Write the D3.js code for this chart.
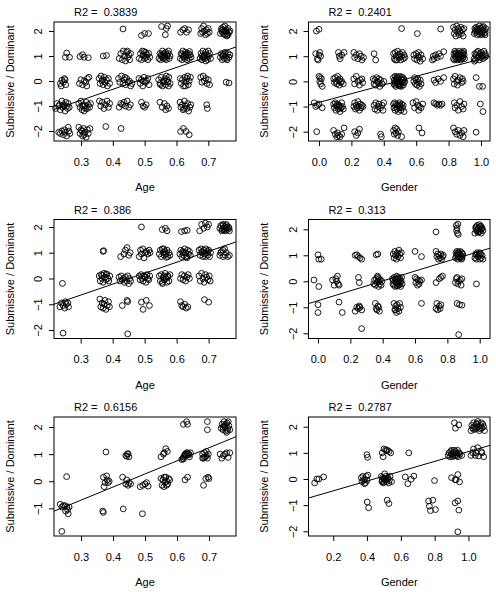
<!DOCTYPE html>
<html>
<head>
<meta charset="utf-8">
<script src="https://cdn.jsdelivr.net/npm/d3@7"></script>
<style>
  body { margin: 0; background: #fff; }
  svg text { font-family: "Liberation Sans", Arial, sans-serif; font-size: 11px; fill: #000; }
</style>
</head>
<body>
<svg id="chart"></svg>
<script>
const width = 496;
const height = 592;

// tick values
const ageTicks = [0.3, 0.4, 0.5, 0.6, 0.7];
const genderTicks = [0, 0.2, 0.4, 0.6, 0.8, 1.0];
const genderTicksLow = [0.2, 0.4, 0.6, 0.8, 1.0];
const sdTicks = [-2, -1, 0, 1, 2];
const sdTicksLow = [-1, 0, 1, 2];

// fit results per panel (row by row)
const r2Values = ["0.3839", "0.2401", "0.386", "0.313", "0.6156", "0.2787"];
const intercepts = [-2.08, -0.834, -1.92, -0.746, -2.146, -0.828];
const slopes = [4.37, 1.727, 4.25, 1.90, 4.83, 1.877];
const xLabels = ["Age", "Gender", "Age", "Gender", "Age", "Gender"];

// points [x, score]
const ageTop = [
  [.255,1.12],[.251,.95],[.264,.95],
  [.235,-.1],[.24,.03],[.245,-.05],[.25,.05],[.252,-.15],[.238,-.2],[.248,.1],
  [.22,-1.1],[.225,-.9],[.23,-1],[.235,-1.15],[.24,-.8],[.242,-1.05],[.245,-.95],[.25,-1.2],[.252,-.85],[.255,-1],[.258,-1.1],[.26,-.9],[.263,-1.05],[.247,-1],[.233,-.95],
  [.23,-2.05],[.235,-2.1],[.24,-2],[.245,-2.15],[.25,-2.05],[.255,-2.2],[.26,-1.85],[.262,-2],[.265,-2.1],[.248,-1.95],
  [.297,.98],[.305,1.05],[.31,.95],[.323,.93],
  [.295,-.1],[.3,.05],[.305,-.15],[.31,0],[.315,-.05],[.32,.1],[.325,.15],[.318,-.2],
  [.293,-.9],[.297,-1.05],[.3,-.8],[.303,-1.15],[.307,-.95],[.31,-1.2],[.313,-1],[.317,-.85],[.32,-1.1],[.323,-.95],[.327,-1.05],[.33,-.9],[.305,-1],[.315,-1.1],
  [.293,-1.85],[.297,-2.1],[.3,-1.95],[.305,-2.2],[.308,-1.9],[.312,-2.05],[.316,-2.25],[.32,-1.95],[.323,-2.1],[.328,-1.9],[.31,-2.15],[.302,-2],
  [.37,1],[.38,1.02],
  [.357,.1],[.36,-.1],[.363,.2],[.366,0],[.37,-.15],[.373,.15],[.376,-.05],[.38,.05],[.383,-.2],[.386,.1],[.39,-.1],[.368,.05],
  [.358,-.8],[.362,-1],[.367,-.85],[.372,-1.1],[.377,-.95],[.382,-.8],[.386,-1.05],[.39,-.9],
  [.378,-1.82],
  [.432,2.08],
  [.42,.9],[.425,1.1],[.43,.85],[.433,1.2],[.437,1],[.44,.8],[.443,1.15],[.447,.95],[.45,1.05],[.453,.85],[.456,1.1],[.446,1.2],
  [.418,.1],[.422,-.05],[.427,.2],[.432,-.1],[.436,.05],[.44,-.15],[.444,.1],[.448,-.05],[.452,0],[.456,-.2],[.46,-.1],[.438,.15],
  [.42,-1.05],[.425,-.9],[.43,-.95],[.435,-.85],[.44,-1],[.445,-.8],[.45,-1.05],[.455,-.95],
  [.426,-1.9],
  [.49,1.82],[.5,1.9],[.512,1.9],
  [.483,.9],[.487,1.1],[.49,.85],[.493,1.2],[.497,1],[.5,.9],[.503,1.15],[.507,1.05],[.51,.85],[.513,1.1],[.516,.95],[.495,1.05],[.505,.95],[.498,1.18],
  [.482,.1],[.486,-.1],[.49,.05],[.494,-.2],[.498,.15],[.502,-.05],[.506,0],[.51,.1],[.514,-.15],[.496,0],
  [.49,-.85],[.495,-1],[.5,-1.05],[.505,-.95],
  [.553,2.18],[.568,2.1],[.572,2.2],[.565,1.85],
  [.545,.9],[.548,1.1],[.55,.85],[.553,1],[.556,1.2],[.558,.9],[.561,1.05],[.563,.95],[.566,1.15],[.568,.85],[.571,1],[.574,1.1],[.577,.9],[.58,1],[.555,.95],[.56,1.1],[.565,.9],[.57,1.05],[.575,1.2],[.552,1.05],
  [.544,.05],[.548,-.1],[.552,.15],[.556,-.2],[.56,0],[.563,.1],[.566,-.15],[.57,.05],[.573,-.05],[.576,.15],[.58,-.1],[.558,-.05],[.568,.2],[.55,-.15],[.575,-.2],
  [.548,-.85],[.555,-1.05],[.562,-.9],[.566,-1.15],[.57,-1],[.575,-1.1],
  [.613,1.95],[.62,2.05],[.626,2.1],[.632,1.95],[.638,2.05],
  [.612,.9],[.615,1.1],[.618,.85],[.62,1.2],[.623,1],[.626,.9],[.628,1.15],[.63,1.05],[.633,.85],[.636,1],[.638,1.1],[.64,.9],[.643,1.05],[.646,.95],[.622,.95],[.632,1.1],[.617,1.05],[.641,1.18],
  [.612,.1],[.615,-.1],[.619,.05],[.622,-.2],[.626,.15],[.63,-.05],[.633,.1],[.637,-.15],[.64,0],[.644,.15],[.628,-.2],[.635,.2],
  [.611,-.85],[.614,-1.05],[.618,-.95],[.621,-1.15],[.625,-.8],[.628,-1],[.632,-1.1],[.635,-.9],[.638,-1.2],[.642,-1.05],[.645,-.95],[.624,-1.1],
  [.613,-2.02],[.622,-1.9],[.63,-2.02],[.64,-2.15],
  [.676,1.9],[.679,2.1],[.682,1.95],[.685,2.2],[.688,2],[.691,1.85],[.694,2.05],[.697,1.9],[.7,2.1],[.703,1.95],
  [.674,.9],[.677,1.1],[.68,.85],[.683,1.2],[.686,1],[.689,.9],[.692,1.15],[.695,1.05],[.698,.85],[.701,1],[.704,1.1],[.707,.9],[.68,1],[.688,1.05],[.696,.95],[.684,.95],[.7,1.2],[.692,.8],
  [.676,.15],[.68,-.05],[.684,.2],[.688,0],[.692,.1],[.696,-.1],[.7,.05],[.704,-.15],
  [.695,-.95],[.697,-1.1],
  [.738,1.9],[.741,2.1],[.744,1.95],[.747,2.15],[.75,2],[.753,1.85],[.756,2.05],[.759,1.9],[.762,2.1],[.765,1.95],[.768,2],[.745,2.05],[.752,2.2],[.758,1.8],[.748,1.88],[.762,1.85],[.742,2.02],[.755,1.98],
  [.738,.95],[.741,1.1],[.744,.85],[.747,1.05],[.75,.9],[.753,1.15],[.756,1],[.759,.85],[.762,1.1],[.765,.95],[.768,1.05],[.745,1],[.757,.9],[.751,1.08],
  [.756,-.05],[.765,-.08]
];

const genderTop = [
  [-.016,2],[0,2.07],
  [-.02,1.1],[-.01,.9],[0,1.05],[.005,1.15],[-.005,.85],[.01,1],
  [0,.2],[.005,0],[.01,-.1],[.015,.1],[.02,-.2],[.008,.15],
  [-.03,-.85],[-.02,-1],[-.01,-.95],[0,-.9],[.02,-1.05],
  [-.014,-2],
  [.12,1.15],[.13,.9],[.14,1.05],[.155,1.15],[.125,1],
  [.09,.1],[.095,-.05],[.1,.15],[.105,0],[.11,-.1],[.115,.2],[.12,.05],[.125,-.15],[.13,.1],[.135,-.05],[.14,0],[.15,-.1],
  [.09,-.9],[.095,-1.05],[.1,-.85],[.105,-1.15],[.11,-1],[.115,-.9],[.12,-1.1],[.125,-.95],[.13,-1.2],[.135,-1.05],[.14,-.85],[.145,-1],[.15,-1.1],[.108,-.95],[.128,-1],
  [.09,-1.95],[.1,-2.1],[.11,-2.2],[.115,-2.05],[.12,-2.15],[.13,-2.2],[.14,-2.1],[.155,-1.85],
  [.215,1.15],[.22,.95],[.23,1.05],[.24,.9],[.25,1.1],[.26,1],[.265,.85],[.275,.95],
  [.215,.1],[.22,-.1],[.23,.2],[.24,0],[.25,-.15],[.255,.05],[.265,.1],[.27,-.05],
  [.215,-1],[.22,-.85],[.225,-1.1],[.23,-.95],[.235,-1.05],[.24,-.8],[.245,-1],[.25,-1.15],[.255,-.9],[.26,-1.05],[.265,-.95],[.272,-1],
  [.22,-2],[.23,-2.15],[.24,-2.05],[.25,-1.9],
  [.34,1.1],[.35,.85],
  [.335,.1],[.34,-.1],[.345,.05],[.35,-.15],[.355,.15],[.36,0],[.365,-.05],[.37,.1],[.375,-.2],[.38,.05],[.39,-.1],[.4,0],
  [.34,-.95],[.345,-1.1],[.35,-.85],[.36,-1.15],[.365,-1],[.37,-.9],[.38,-1.05],[.39,-.95],[.395,-1.15],[.4,-.85],
  [.38,-2.1],[.385,-2.2],
  [.51,2.1],
  [.46,1.1],[.465,.9],[.47,1.15],[.475,1],[.48,.85],[.485,1.2],[.49,1.05],[.495,.95],[.5,1.1],[.505,.85],[.51,1],[.515,1.15],[.52,.9],[.525,1.05],[.53,.95],[.472,.85],
  [.46,.15],[.462,-.1],[.465,.05],[.468,-.15],[.47,.2],[.473,0],[.476,-.2],[.479,.1],[.482,-.05],[.485,.15],[.488,-.1],[.49,.05],[.493,-.15],[.496,.2],[.499,0],[.502,-.1],[.505,.1],[.508,-.2],[.511,.05],[.514,-.05],[.517,.15],[.52,-.15],[.523,.1],[.526,-.05],[.529,0],[.48,.18],[.5,-.18],[.51,.18],[.47,-.05],[.52,.05],
  [.46,-.9],[.463,-1.05],[.467,-.85],[.47,-1.15],[.474,-1],[.478,-.9],[.482,-1.1],[.486,-.95],[.49,-1.2],[.494,-1.05],[.498,-.85],[.502,-1],[.506,-1.15],[.51,-.9],[.515,-1.05],[.52,-.95],[.525,-1.2],[.5,-.95],
  [.46,-1.95],[.465,-2.1],[.47,-1.85],[.475,-2.05],[.48,-1.9],[.485,-2.15],[.49,-2],[.51,-2.2],
  [.607,1.9],
  [.585,1.05],[.59,.9],[.6,1.1],[.605,.85],[.61,1],[.615,1.15],[.62,.95],[.625,.8],[.63,1.05],[.64,.9],
  [.585,0],[.59,.15],[.595,-.1],[.6,.05],[.605,-.15],[.61,.1],[.615,-.05],[.62,-.2],[.625,.05],[.63,-.1],
  [.58,-.85],[.59,-1.05],[.6,-.8],[.61,-.95],[.615,-1.15],[.62,-1],[.63,-1.05],[.64,-.9],
  [.617,-1.85],[.636,-2.05],
  [.751,2.08],
  [.7,.85],[.705,1],[.71,.9],[.72,1.05],[.73,.95],[.74,1.1],[.75,1],[.77,1.18],
  [.71,.05],[.72,-.05],[.735,.1],[.75,0],[.77,.15],
  [.71,-.85],[.72,-.9],[.73,-.95],[.74,-.9],[.75,-.95],[.76,-.9],
  [.83,2.15],[.835,1.9],[.84,2.05],[.845,1.8],[.85,2.2],[.855,1.95],[.86,2.1],[.865,1.85],[.87,2],[.875,2.15],[.88,1.9],[.885,2.05],[.89,1.8],[.895,2.1],
  [.83,.9],[.833,1.1],[.836,.85],[.839,1.2],[.842,1],[.845,.9],[.848,1.15],[.851,1.05],[.854,.85],[.857,1],[.86,1.1],[.863,.9],[.866,1.2],[.869,.95],[.872,1.05],[.875,.85],[.878,1.15],[.881,1],[.884,.9],[.887,1.1],[.89,.95],[.893,1.2],[.896,1.05],[.899,.9],[.845,1.1],[.86,.95],[.875,1.05],[.89,1.15],
  [.83,.1],[.835,-.1],[.84,.2],[.85,0],[.855,-.15],[.86,.05],[.87,.15],[.88,-.05],[.885,.1],[.89,0],
  [.835,-.85],[.84,-1.05],[.85,-.95],[.86,-1.15],[.87,-.8],[.88,-1],[.89,-1.1],[.895,-.9],
  [.83,-1.85],[.84,-2],[.85,-2.1],[.86,-1.95],[.87,-2.15],[.88,-2.05],[.89,-2.2],[.895,-1.95],
  [.958,1.9],[.962,2.1],[.966,1.95],[.97,2.15],[.974,2],[.978,1.85],[.982,2.05],[.986,1.9],[.99,2.2],[.994,2],[.998,1.85],[1.002,2.1],[1.006,1.95],[1.01,2.15],[1.014,2],[1.018,1.9],[1.022,2.05],[1.026,1.95],[1.03,2.1],[.975,2.08],[.985,1.98],[.995,2.12],[1.005,1.88],[1.015,2.18],[1.025,1.85],[.965,2.02],
  [.958,.9],[.962,1.1],[.966,.85],[.97,1.05],[.974,1.15],[.978,.95],[.982,1.2],[.986,1],[.99,.85],[.994,1.1],[.998,.95],[1.002,1.15],[1.006,1],[1.01,.9],[1.014,1.05],[1.018,1.2],[1.022,.95],[1.026,1.1],[1.03,1],[.96,.8],
  [.97,.15],[.99,-.2],[1.01,-.2],
  [.996,-.9],[1.012,-1.2],
  [.97,-2.02]
];

const ageMid = [
  [.243,-.19],
  [.235,-1.1],[.24,-.95],[.245,-1.05],[.25,-1.15],[.255,-1],[.26,-.95],[.262,-1.1],[.252,-.9],
  [.245,-2.12],
  [.37,1.05],[.372,1.08],
  [.358,.1],[.361,-.1],[.364,.15],[.367,0],[.37,-.15],[.373,.2],[.376,.05],[.379,-.05],[.382,.15],[.385,0],[.388,-.1],[.391,.1],[.368,.12],[.38,.18],
  [.36,-.8],[.363,-1.1],[.367,-.95],[.37,-1.15],[.373,-1],[.376,-.85],[.379,-1.2],[.383,-1.05],[.387,-.9],[.39,-1.1],
  [.425,.85],[.435,.95],[.44,1.1],[.445,1.2],[.45,.9],[.455,1],
  [.42,.05],[.423,-.1],[.427,.1],[.43,-.05],[.434,0],[.437,-.15],[.44,.05],[.444,-.1],[.447,.1],[.45,-.2],[.453,0],[.456,-.1],
  [.43,-1.05],[.445,-.85],[.447,-.9],
  [.447,-2.15],
  [.49,2],
  [.483,.85],[.487,1.1],[.49,.95],[.494,1.15],[.498,.8],[.502,1],[.506,1.05],[.51,.95],[.514,1.1],[.517,1],
  [.483,.1],[.486,-.05],[.489,.15],[.492,0],[.495,-.1],[.498,.1],[.501,.05],[.504,-.15],[.507,.15],[.51,0],[.513,-.05],[.516,.1],
  [.49,-.92],[.495,-1.2],[.505,-.85],[.515,-1.05],
  [.555,1.9],[.565,1.95],[.57,1.85],
  [.546,.95],[.549,1.1],[.552,.85],[.555,1.15],[.558,1],[.561,.9],[.564,1.05],[.567,.95],[.57,1.1],[.573,.85],[.576,1],[.579,.9],[.56,1.15],[.568,.82],
  [.546,.1],[.549,-.1],[.552,.15],[.555,-.15],[.558,.05],[.561,-.05],[.564,.2],[.567,0],[.57,-.15],[.573,.1],[.576,-.1],[.579,.15],[.562,.1],[.572,.05],[.556,-.2],
  [.615,1.82],[.625,1.85],[.633,1.87],
  [.61,.95],[.613,1.1],[.616,.85],[.619,1.05],[.622,.9],[.625,1.15],[.628,1],[.631,.85],[.634,1.1],[.637,.95],[.64,1.05],[.643,.9],[.62,1],[.632,.8],
  [.612,0],[.616,.15],[.62,-.05],[.624,.1],[.628,-.1],[.632,.05],[.636,.15],[.64,0],
  [.612,-.9],[.616,-1.05],[.62,-1.1],[.625,-1],[.63,-1.15],[.635,-1.1],
  [.672,1.85],[.678,2.1],[.685,1.95],[.69,2.15],[.696,2],[.7,2.1],
  [.67,1.1],[.673,.9],[.676,1.15],[.679,1],[.682,.85],[.685,1.1],[.688,.95],[.691,1.15],[.694,1],[.697,.9],[.7,1.1],[.703,.85],[.706,1],[.68,1.05],[.69,.85],[.698,1.05],
  [.67,.1],[.674,-.1],[.678,.2],[.682,0],[.686,-.15],[.69,.15],[.694,.05],[.698,-.05],[.702,.1],[.705,-.1],
  [.687,-.82],[.7,-.92],
  [.735,1.95],[.738,2.05],[.741,1.85],[.744,2.1],[.747,1.95],[.75,2],[.753,1.85],[.756,2.05],[.759,1.9],[.762,2],[.765,1.85],[.746,2.08],[.752,1.92],[.758,1.98],[.742,1.9],[.764,1.95],[.755,2.1],[.748,1.88],
  [.735,.9],[.74,1.05],[.745,.85],[.75,1.15],[.755,1],[.76,.85],[.765,.9],[.745,1.1],[.738,1],[.752,.9]
];

const genderMid = [
  [0,1.02],[.005,.85],[.02,.85],
  [-.025,.05],[.005,-.2],
  [0,-.9],[0,-1.2],
  [.09,.05],[.1,-.15],[.11,.1],[.12,.2],[.125,-.1],[.13,-.15],[.115,0],
  [.13,-.8],[.15,-1.2],
  [.23,1],[.24,1.02],[.25,.95],[.26,.9],[.27,.85],
  [.25,.15],[.255,-.05],
  [.23,-1.15],[.24,-1],[.25,-1.05],[.26,-1],[.27,-1.1],[.255,-.95],
  [.27,-1.82],
  [.36,1.02],[.37,1.05],
  [.345,-.1],[.35,.05],[.355,-.15],[.36,.1],[.365,-.05],[.37,.15],[.372,0],[.375,-.2],[.378,.1],[.38,-.1],[.385,.05],[.39,-.15],[.395,0],[.368,.2],
  [.355,-.85],[.36,-1.05],[.365,-1.1],[.37,-.95],[.38,-1.15],[.375,-1],
  [.465,1.05],[.47,.9],[.475,1.15],[.48,1],[.485,.85],[.49,1.1],[.495,.95],[.5,1.2],[.505,1.05],[.51,.9],[.515,1.1],
  [.46,.1],[.463,-.1],[.466,.05],[.469,-.15],[.472,.15],[.475,0],[.478,-.2],[.481,.1],[.484,-.05],[.487,.2],[.49,0],[.493,-.1],[.496,.15],[.499,-.15],[.502,.05],[.505,-.05],[.508,.1],[.511,-.2],[.514,0],[.517,.15],[.52,-.1],[.485,.05],[.495,.1],[.505,-.12],[.49,-.18],
  [.47,-.85],[.475,-1.1],[.48,-.95],[.485,-1.2],[.49,-.9],[.495,-1.05],[.5,-1.15],[.505,-.85],[.51,-1],[.48,-1.1],
  [.6,1.15],[.64,.95],
  [.6,.15],[.605,-.05],[.61,.1],[.615,-.15],[.62,.05],[.625,-.1],[.63,0],[.64,.05],
  [.64,-.85],
  [.73,1.9],
  [.73,1.15],[.735,.95],[.74,1.05],[.745,.85],[.75,1],[.755,.9],[.76,1.05],[.765,.85],[.77,.95],[.775,1],
  [.73,-.05],[.75,.1],[.76,.15],[.77,.2],
  [.73,-1.05],[.735,-.85],[.74,-1.1],[.75,-.95],[.755,-1.05],[.76,-.9],
  [.855,2.15],[.857,1.95],[.86,2.05],[.862,1.85],[.865,2.2],[.868,1.8],
  [.85,.9],[.853,1.1],[.856,.95],[.859,1.15],[.862,1],[.865,.85],[.868,1.1],[.871,.95],[.874,1.05],[.877,.9],[.88,1.15],[.883,1],[.886,.85],[.889,1.1],[.892,.95],[.895,1.05],[.86,1.05],[.87,1.12],[.88,.92],[.89,.88],
  [.85,-.05],[.855,.1],[.86,.15],[.865,-.1],[.87,0],[.88,.05],[.885,-.15],[.89,.1],
  [.86,-.85],[.875,-.9],[.89,-.92],
  [.87,-2.05],
  [.97,1.85],[.975,2.05],[.98,1.95],[.985,2.15],[.99,2],[.995,1.9],[1,2.1],[1.005,2],[1.01,1.85],[1.015,2.05],[1.02,1.95],[.978,2.1],[.988,1.88],[.998,2.18],[1.008,2.12],[.992,2.05],[1.003,1.92],[.983,1.98],[1.012,2.02],
  [.97,.9],[.975,1.05],[.98,.85],[.985,1.1],[.99,.95],[.995,1],[1,.85],[1.005,1.05],[1.01,.9],[1.015,1],[1.02,.85],[.98,1],[1,1.1],
  [.98,-.1]
];

const ageBottom = [
  [.255,.17],
  [.235,-.85],[.24,-.95],[.245,-.9],[.25,-.9],[.252,-1.1],[.256,-.95],[.258,-1.05],[.26,-1.2],[.263,-.95],
  [.24,-1.85],
  [.378,1.08],
  [.37,.15],[.372,-.2],[.375,-.05],[.38,.2],[.382,.05],[.385,-.05],[.388,0],
  [.368,-1.1],[.37,-1.15],
  [.44,.95],[.445,1],[.45,.9],[.443,.92],[.447,1.02],
  [.43,.15],[.44,-.1],[.443,.05],[.447,-.15],[.45,-.05],[.455,-.1],
  [.432,-1.02],
  [.485,-.2],[.493,-.15],[.5,-.1],[.505,-.05],[.51,-.18],
  [.492,-1.2],
  [.55,.9],[.558,1],[.565,1.2],[.57,1.1],[.56,1.05],
  [.55,.1],[.553,-.15],[.556,.05],[.559,-.2],[.562,-.05],[.565,.15],[.568,0],[.571,-.1],[.574,.1],[.577,.05],[.56,.15],[.567,-.15],
  [.62,2.1],[.63,2.2],[.633,2.1],
  [.615,.8],[.618,.85],[.621,.9],[.624,.95],[.627,1],[.63,.95],[.633,1.05],[.636,1],[.639,.9],[.642,1.05],[.625,1],[.63,1.05],[.638,.98],[.62,.82],
  [.625,.05],[.633,.15],
  [.695,2.2],[.695,1.9],
  [.68,1],[.683,.85],[.686,1.05],[.689,.9],[.692,1.1],[.695,.85],[.698,1],[.686,.88],[.692,.95],[.68,.85],
  [.683,-.15],[.69,.1],[.697,.15],[.7,.1],
  [.738,1.95],[.741,2.1],[.744,1.9],[.747,2.2],[.75,2],[.753,1.85],[.756,2.15],[.759,1.95],[.762,2.05],[.765,1.9],[.748,2.05],[.755,1.8],[.76,2.2],[.743,2],[.752,2.1],[.758,1.88],
  [.735,1],[.74,.85],[.745,.95],[.755,1.05],[.76,.88],[.765,1.05],[.75,1]
];

const genderBottom = [
  [.09,-.15],[.103,0],[.115,0],[.143,.08],
  [.399,.93],[.403,.83],
  [.366,.05],[.37,-.1],[.375,.1],[.38,-.05],[.385,0],[.39,-.15],[.395,.1],[.4,-.05],[.405,.15],[.385,-.18],
  [.401,-.88],[.409,-1.1],
  [.49,1],[.5,1.15],[.51,1.12],[.52,1.1],[.53,1.05],[.54,1],[.495,.85],[.515,1.08],
  [.484,.1],[.488,-.1],[.492,.05],[.496,-.15],[.5,0],[.504,.2],[.508,-.05],[.512,.1],[.516,-.1],[.52,0],[.524,.05],[.528,-.15],[.532,-.05],[.536,.1],[.5,-.12],[.51,.02],[.545,-.1],[.49,-.05],
  [.519,-.81],[.529,-.94],
  [.647,1],
  [.626,.08],[.641,-.18],[.661,-.01],[.677,.11],
  [.799,-.06],
  [.764,-.84],[.769,-1.04],[.775,-1.21],[.789,-.81],[.805,-1.17],
  [.917,2.15],[.923,1.94],[.943,2.07],
  [.88,.9],[.885,1],[.89,.85],[.895,1.05],[.9,.95],[.905,.85],[.91,1],[.915,1.1],[.92,.9],[.925,1.05],[.93,.95],[.935,1.1],[.94,.85],[.945,1],[.9,1.1],[.91,.9],[.92,1],[.93,.88],[.95,.95],[.96,.9],
  [.9,.05],[.921,-.03],[.927,-.03],[.937,.17],[.947,-.11],
  [.921,-.91],[.937,-.84],[.943,-1.19],
  [.937,-2.02],
  [1.015,1.85],[1.02,2.05],[1.025,1.95],[1.03,2.15],[1.035,2],[1.04,1.9],[1.045,2.1],[1.05,1.95],[1.055,2.2],[1.06,2],[1.065,1.85],[1.07,2.05],[1.075,2.15],[1.08,1.95],[1.085,2.1],[1.09,2],[1.095,1.85],[1.03,1.9],[1.05,2.12],[1.07,1.92],
  [1.015,.9],[1.03,1.15],[1.045,1],[1.06,.88],[1.075,1.05],[1.09,.85],[1.04,.9],[1.08,1],[1.055,1.2],[1.025,1]
];

const pointSets = [ageTop, genderTop, ageMid, genderMid, ageBottom, genderBottom];
const xTickSets = [ageTicks, genderTicks, ageTicks, genderTicks, ageTicks, genderTicksLow];
const yTickSets = [sdTicks, sdTicks, sdTicks, sdTicks, sdTicksLow, sdTicks];

// plot boxes (pixels) and visible ranges
const boxes = [
  {x0: 54, x1: 236, y0: 22, y1: 141, xd: [0.2152, 0.787], yd: [-2.4, 2.36]},
  {x0: 308.5, x1: 490, y0: 22, y1: 141, xd: [-0.0648, 1.0556], yd: [-2.37, 2.36]},
  {x0: 54, x1: 236, y0: 219.5, y1: 338.5, xd: [0.2166, 0.7856], yd: [-2.33, 2.29]},
  {x0: 308.5, x1: 490, y0: 219.5, y1: 338.5, xd: [-0.0588, 1.0637], yd: [-2.2, 2.377]},
  {x0: 54, x1: 236, y0: 417, y1: 536, xd: [0.2156, 0.7844], yd: [-2.02, 2.37]},
  {x0: 308.5, x1: 490, y0: 417, y1: 536, xd: [0.0535, 1.1274], yd: [-2.18, 2.371]}
];

const svg = d3.select("#chart").attr("width", width).attr("height", height);
svg.append("rect").attr("width", width).attr("height", height).attr("fill", "#fff");

boxes.forEach(function (b, i) {
  const x = d3.scaleLinear().domain(b.xd).range([b.x0, b.x1]);
  const y = d3.scaleLinear().domain(b.yd).range([b.y1, b.y0]);
  const g = svg.append("g");

  g.append("clipPath").attr("id", "clip" + i)
    .append("rect")
    .attr("x", b.x0).attr("y", b.y0)
    .attr("width", b.x1 - b.x0).attr("height", b.y1 - b.y0);

  // points
  g.append("g")
    .selectAll("circle")
    .data(pointSets[i])
    .enter()
    .append("circle")
    .attr("cx", (d) => x(d[0]))
    .attr("cy", (d) => y(d[1]))
    .attr("r", 2.9)
    .attr("fill", "none")
    .attr("stroke", "#000")
    .attr("stroke-width", 0.9);

  // fitted line
  const line = d3.line().x((d) => x(d)).y((d) => y(intercepts[i] + slopes[i] * d));
  g.append("path")
    .attr("clip-path", "url(#clip" + i + ")")
    .attr("d", line(b.xd))
    .attr("fill", "none")
    .attr("stroke", "#000")
    .attr("stroke-width", 1);

  // axes
  const xAxis = g.append("g")
    .attr("transform", `translate(0,${b.y1})`)
    .call(d3.axisBottom(x).tickValues(xTickSets[i]).tickFormat(d3.format(".1f")).tickSize(5).tickPadding(12));
  xAxis.select(".domain").remove();
  xAxis.selectAll("text").attr("font-size", null).attr("font-family", null);

  const yAxis = g.append("g")
    .attr("transform", `translate(${b.x0},0)`)
    .call(d3.axisLeft(y).tickValues(yTickSets[i]).tickFormat(d3.format("d")).tickSize(5));
  yAxis.select(".domain").remove();
  yAxis.selectAll("text")
    .attr("font-size", null).attr("font-family", null)
    .attr("x", 0).attr("dy", "0.35em")
    .attr("text-anchor", "middle")
    .attr("transform", "translate(-15.5,0) rotate(-90)");

  // box
  g.append("rect")
    .attr("x", b.x0).attr("y", b.y0)
    .attr("width", b.x1 - b.x0).attr("height", b.y1 - b.y0)
    .attr("fill", "none").attr("stroke", "#000").attr("stroke-width", 1);

  // labels
  g.append("text")
    .attr("x", b.x0 + 20).attr("y", b.y0 - 6)
    .style("white-space", "pre")
    .text("R2 =  " + r2Values[i]);

  g.append("text")
    .attr("x", (b.x0 + b.x1) / 2).attr("y", b.y1 + 50)
    .attr("text-anchor", "middle")
    .text(xLabels[i]);

  g.append("text")
    .attr("transform", `translate(${b.x0 - 40.5},${(b.y0 + b.y1) / 2}) rotate(-90)`)
    .attr("text-anchor", "middle")
    .text("Submissive / Dominant");
});
</script>
</body>
</html>
